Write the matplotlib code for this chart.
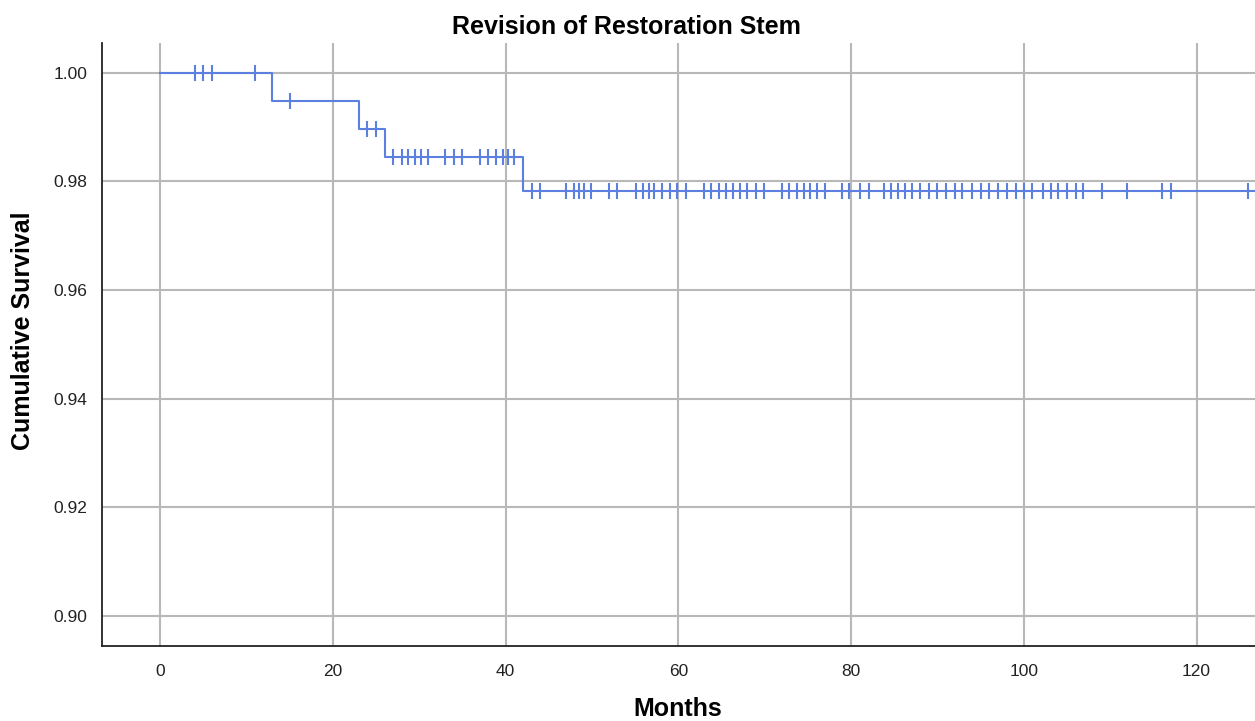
import numpy as np
import matplotlib
matplotlib.use("Agg")
import matplotlib.pyplot as plt

# Kaplan-Meier style data
event_months = [0, 13, 23, 26, 42]
survival = [1.0, 0.99485, 0.9897, 0.9845, 0.9783]
end_month = 126.8

censored_months = [
    4, 5, 6, 11,
    15,
    24, 25,
    27, 28, 28.7, 29.5, 30.2, 31, 33, 34, 35, 37, 38, 38.9, 39.7, 40.3, 41,
    43, 44, 47, 47.9, 48.5, 49.1, 49.9, 52, 52.9, 55.1, 55.9, 56.6, 57.2,
    58.1, 59, 59.9, 60.9, 63, 63.8, 64.7, 65.5, 66.3, 67.1, 67.9, 69, 69.9,
    72, 72.8, 73.7, 74.6, 75.3, 76.1, 77, 79, 79.8, 81, 82.1, 83.8, 84.6,
    85.4, 86.3, 87.1, 88, 89, 90, 91, 92, 92.9, 94, 95, 96, 97, 98, 99.1,
    100, 101, 102.2, 103.1, 104, 105, 106, 106.8, 109, 112, 116, 117, 126,
]

x_ticks = [0, 20, 40, 60, 80, 100, 120]
y_ticks = [0.90, 0.92, 0.94, 0.96, 0.98, 1.00]

plt.rcParams["font.family"] = ["Liberation Sans", "DejaVu Sans"]

LINE_COLOR = "#5b80e0"
GRID_COLOR = "#b8b8b8"

fig = plt.figure(figsize=(12.55, 7.21), dpi=100)
ax = fig.add_axes([0.0815, 0.104, 0.9185, 0.8365])

# step curve
step_x = list(event_months) + [end_month]
step_y = list(survival) + [survival[-1]]
ax.step(step_x, step_y, where="post", color=LINE_COLOR, linewidth=1.5, zorder=3)

# censor marks sit on the curve at their time
idx = np.searchsorted(event_months, censored_months, side="right") - 1
cens_y = np.array(survival)[idx]
ax.plot(censored_months, cens_y, linestyle="none", marker="|",
        markersize=12, markeredgewidth=1.5, color=LINE_COLOR, zorder=4)

ax.set_xlim(-6.7, 126.77)
ax.set_ylim(0.89449, 1.00546)
ax.set_xticks(x_ticks)
ax.set_yticks(y_ticks)
ax.set_yticklabels([f"{v:.2f}" for v in y_ticks])

ax.grid(True, color=GRID_COLOR, linewidth=1.5)
ax.set_axisbelow(True)
ax.tick_params(length=0, labelsize=12.5, labelcolor="#222222")
ax.tick_params(axis="x", pad=13)
ax.tick_params(axis="y", pad=11)

for side in ["top", "right"]:
    ax.spines[side].set_visible(False)
for side in ["left", "bottom"]:
    ax.spines[side].set_color("#222222")
    ax.spines[side].set_linewidth(1.3)

fig.text(626 / 1255, 1 - 27 / 721, "Revision of Restoration Stem",
         ha="center", va="center", fontsize=18, fontweight="bold")
fig.text(678 / 1255, 1 - 709 / 721, "Months",
         ha="center", va="center", fontsize=18, fontweight="bold")
fig.text(23 / 1255, 1 - 331 / 721, "Cumulative Survival", rotation=90,
         ha="center", va="center", fontsize=18, fontweight="bold")

fig.savefig("out.png", dpi=100)
